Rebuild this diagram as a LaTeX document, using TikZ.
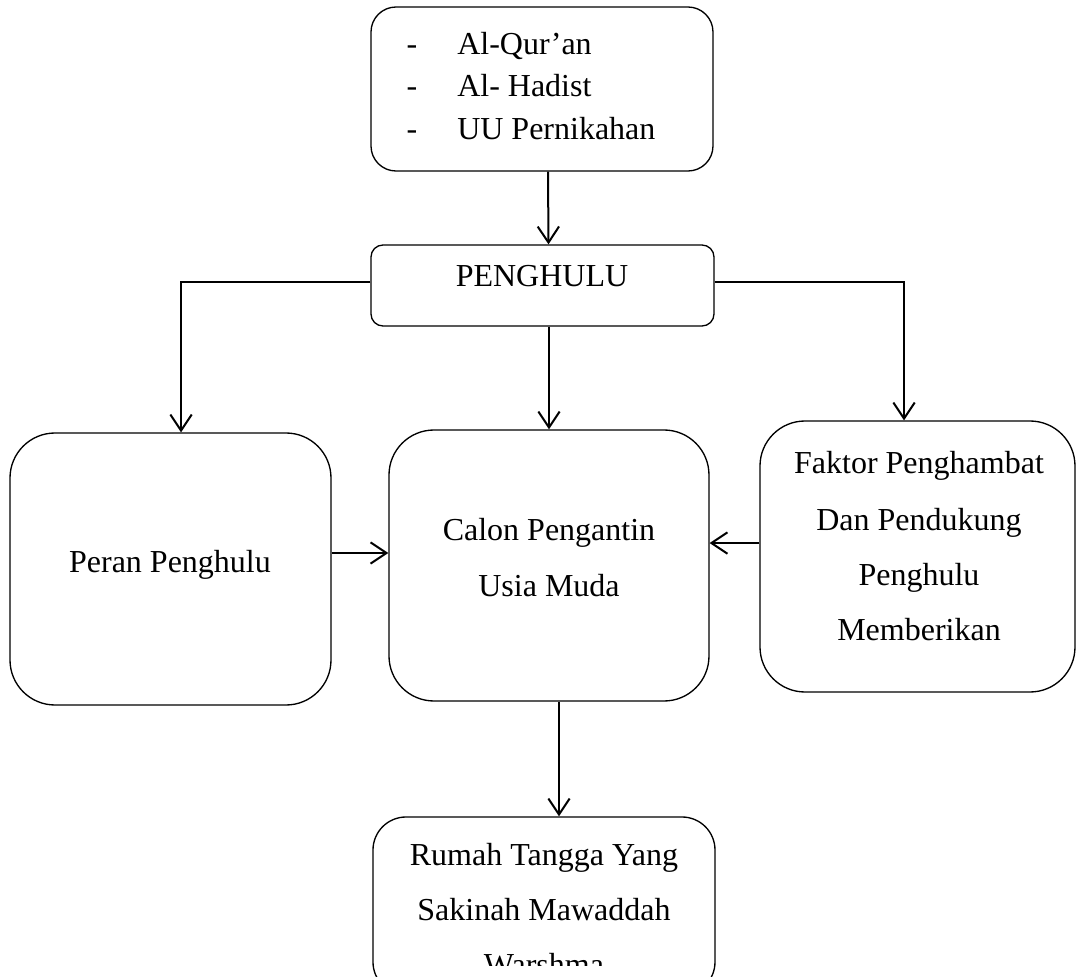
\documentclass[tikz,border=0pt]{standalone}
\usepackage{fontspec}
\setmainfont{Liberation Serif}
\usetikzlibrary{arrows.meta}
\begin{document}
\begin{tikzpicture}[x=0.75pt,y=-0.75pt,
  box/.style={draw, line width=1pt, rectangle, inner sep=0pt},
  lbl/.style={anchor=base, inner sep=0pt, font=\fontsize{24pt}{28pt}\selectfont},
  conn/.style={line width=1.5pt, -{Straight Barb[length=12pt,width=16pt,line width=1.5pt]}}
]
\useasboundingbox (0,0) rectangle (1076,977);
% boxes
\node[box, minimum width=342*0.75pt, minimum height=164*0.75pt, rounded corners=25*0.75pt] (top) at (542,89) {};
\node[box, minimum width=343*0.75pt, minimum height=81*0.75pt, rounded corners=12*0.75pt] (pen) at (542.5,285.5) {};
\node[box, minimum width=321*0.75pt, minimum height=272*0.75pt, rounded corners=45*0.75pt] (peran) at (170.5,569) {};
\node[box, minimum width=320*0.75pt, minimum height=271*0.75pt, rounded corners=45*0.75pt] (calon) at (549,565.5) {};
\node[box, minimum width=315*0.75pt, minimum height=271*0.75pt, rounded corners=45*0.75pt] (faktor) at (917.5,556.5) {};
\node[box, minimum width=342*0.75pt, minimum height=178*0.75pt, rounded corners=33*0.75pt] (rumah) at (544,906) {};
% texts
\node[lbl] (d1) at (412,55) {-};
\node[lbl] (d2) at (412,97) {-};
\node[lbl] (d3) at (412,140) {-};
\node[lbl, anchor=base west] (q1) at (457,55) {Al-Qur’an};
\node[lbl, anchor=base west] (q2) at (457,97) {Al- Hadist};
\node[lbl, anchor=base west] (q3) at (457,140) {UU Pernikahan};
\node[lbl] (penT) at (542,287) {PENGHULU};
\node[lbl] (peranT) at (170,572) {Peran Penghulu};
\node[lbl] (calonA) at (549,540) {Calon Pengantin};
\node[lbl] (calonB) at (549,596) {Usia Muda};
\node[lbl] (fakA) at (919,474) {Faktor Penghambat};
\node[lbl] (fakB) at (919,530) {Dan Pendukung};
\node[lbl] (fakC) at (919,585) {Penghulu};
\node[lbl] (fakD) at (919,640) {Memberikan};
\node[lbl] (rumA) at (544,865) {Rumah Tangga Yang};
\node[lbl] (rumB) at (544,920) {Sakinah Mawaddah};
\begin{scope}
  \clip (380,900) rectangle (710,965);
  \node[lbl] (rumC) at (544,975) {Warshma};
\end{scope}
% connectors
\draw[conn] ([xshift=4.5pt]top.south) -- ([xshift=4.5pt]pen.north);
\draw[conn] ([yshift=2.6pt]pen.west) -| ([xshift=7.9pt]peran.north);
\draw[conn] ([yshift=2.6pt]pen.east) -| ([xshift=-10.1pt]faktor.north);
\draw[conn] (pen.south -| calon.north) -- (calon.north);
\draw[conn] ([yshift=12pt]peran.east) -- ([yshift=12pt]peran.east -| calon.west);
\draw[conn] ([yshift=10.1pt]faktor.west) -- ([yshift=10.1pt]faktor.west -| calon.east);
\draw[conn] ([xshift=7.5pt]calon.south) -- ([xshift=7.5pt]calon.south |- rumah.north);
\end{tikzpicture}
\end{document}
